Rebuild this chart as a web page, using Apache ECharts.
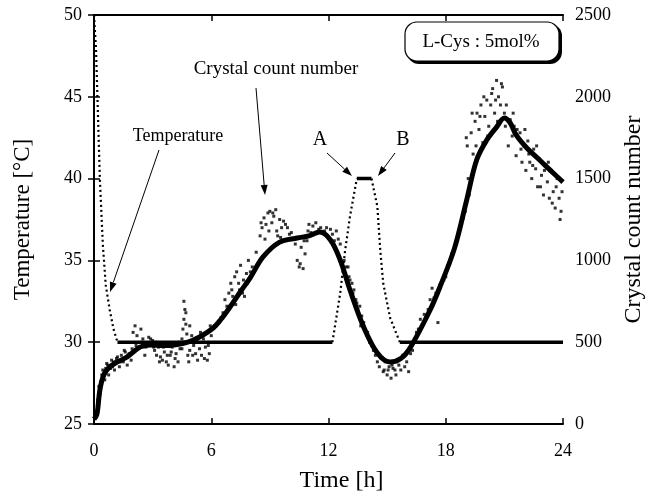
<!DOCTYPE html>
<html><head><meta charset="utf-8">
<script src="https://cdn.jsdelivr.net/npm/echarts@6/dist/echarts.min.js"></script>
<style>html,body{margin:0;padding:0;background:#fff}#c{width:645px;height:497px}</style>
</head><body><div id="c"></div>
<script>
// Temperature profile [h, °C]
const tempTime  = [0, 0.1, 0.2, 0.3, 0.45, 0.6, 0.8, 1.0, 1.2, 12.2, 12.6, 12.85, 13.1, 13.45, 14.2, 14.5, 14.65, 14.8, 15.15, 15.65, 24];
const tempValue = [50, 48, 44, 40, 36, 33.5, 32, 30.8, 30, 30, 33, 35.6, 37.7, 40, 40, 38.3, 35.6, 33.6, 31.5, 30, 30];

// Crystal count (smoothed trend) [h, count]
const crystalTime  = [0, 0.15, 0.3, 0.5, 0.8, 1.2, 1.7, 2.35, 2.9, 3.5, 4.2, 4.8, 5.4, 6.1, 6.5, 6.96, 7.5, 8.0, 8.65, 9.5, 10.4, 11.0, 11.55, 12.1, 12.6, 13.1, 13.8, 14.5, 15.15, 15.7, 16.2, 17.2, 17.7, 18.45, 19.07, 19.58, 20.1, 20.6, 21.0, 21.3, 21.6, 22.15, 22.8, 23.5, 24];
const crystalCount = [30, 60, 208, 300, 348, 380, 410, 470, 483, 480, 485, 500, 532, 587, 640, 715, 810, 895, 1021, 1112, 1137, 1150, 1173, 1125, 1002, 819, 593, 434, 379, 400, 470, 697, 837, 1075, 1369, 1614, 1736, 1815, 1870, 1840, 1767, 1687, 1614, 1534, 1479];

// Raw crystal count measurements (scatter)
const scatterTime = [0.1,0.2,0.25,0.35,0.4,0.5,0.55,0.6,0.7,0.75,0.85,0.9,1.0,1.05,1.2,1.3,1.4,1.5,1.6,1.7,1.8,1.9,2.0,2.1,2.2,2.3,2.4,2.5,2.6,2.7,2.8,3.0,3.1,3.2,3.3,3.4,3.5,3.6,3.7,3.8,3.9,4.0,4.1,4.2,4.3,4.4,4.5,4.55,4.6,4.65,4.7,4.75,4.8,4.85,4.9,5.0,5.1,5.2,5.3,5.4,5.5,5.6,5.7,5.8,5.9,6.0,
6.4,6.6,6.8,6.9,7.0,7.1,7.2,7.3,7.4,7.5,7.6,7.7,7.8,7.9,8.0,8.5,8.6,8.7,8.8,8.9,9.0,9.1,9.2,9.3,9.4,9.5,9.6,9.8,10.0,10.4,10.5,10.6,10.7,10.8,10.9,11.0,11.2,11.5,11.8,12.0,12.2,12.4,12.5,
12.8,13.0,13.1,13.2,13.3,13.4,13.5,13.6,13.7,13.8,14.0,14.2,14.4,14.5,14.6,14.8,14.9,15.0,15.1,15.2,15.3,15.4,15.6,15.8,16.0,16.1,16.3,16.5,16.7,16.9,17.1,17.3,17.5,17.6,17.8,18.0,18.2,18.4,18.6,
19.0,19.1,19.2,19.3,19.4,19.5,19.6,19.7,19.8,19.9,20.0,20.1,20.2,20.3,20.4,20.5,20.6,20.7,20.8,20.9,21.0,21.1,21.3,21.4,21.5,21.6,21.7,21.8,21.9,22.0,22.1,22.2,22.3,22.4,22.5,22.6,22.7,22.8,22.9,23.0,23.1,23.2,23.3,23.4,23.5,23.6,23.7,23.8,23.9,
0.3,0.45,0.65,0.95,1.15,1.35,1.55,1.75,1.95,2.15,2.45,2.65,2.9,3.05,3.15,3.35,3.55,3.75,3.95,4.15,4.35,4.5,4.6,4.7,4.9,5.05,5.25,5.45,5.65,5.85,5.95,
6.2,6.5,6.7,7.05,7.25,7.45,7.65,7.85,8.1,8.3,8.55,8.75,8.95,9.15,9.35,9.55,9.7,9.9,10.1,10.3,10.55,10.75,10.95,11.1,11.35,11.6,11.9,12.1,12.3,
12.6,12.9,13.05,13.25,13.45,13.65,13.9,14.1,14.3,14.7,14.85,15.05,15.25,15.45,15.5,15.7,15.9,16.2,16.4,16.6,16.8,17.0,17.2,17.4,17.7,17.9,18.1,18.3,18.5,18.7,18.8,18.9,
19.05,19.15,19.35,19.55,19.75,19.95,20.15,20.35,20.55,20.65,20.85,21.05,21.2,21.45,21.65,21.85,22.05,22.25,22.45,22.65,22.85,23.05,23.25,23.45,23.65,23.85,23.95];
const scatterCount = [60,150,230,260,300,310,270,340,360,300,340,390,380,330,410,350,420,380,440,360,430,390,560,600,540,470,580,520,420,490,530,510,450,420,470,410,390,440,380,360,420,470,350,430,380,460,520,580,640,700,610,550,420,380,450,540,480,430,390,460,420,520,470,390,430,540,
620,680,720,800,860,780,900,930,860,970,800,780,920,1000,930,1150,1200,1260,1220,1290,1300,1230,1270,1310,1150,1250,1200,1220,1160,1000,960,1080,950,1040,1120,1220,1210,1190,1180,1140,1160,1180,1130,
1000,960,880,860,820,760,700,720,660,620,560,480,420,380,350,320,380,300,350,280,340,330,360,420,380,320,450,560,640,670,700,830,800,620,870,900,980,1060,1150,
1300,1700,1400,1780,1650,1850,1900,1800,1950,1720,1880,1980,1820,1950,2050,1900,2100,2000,1950,2060,1900,1950,1860,1760,1820,1640,1750,1780,1600,1700,1550,1730,1600,1500,1680,1560,1450,1620,1520,1400,1580,1480,1380,1550,1420,1320,1500,1380,1300,
180,330,370,350,400,380,450,420,460,480,500,470,520,470,500,380,470,420,440,400,500,460,750,680,600,420,500,560,400,480,600,
600,650,760,820,730,820,880,860,960,1050,1230,1130,1180,1290,1180,1140,1240,1200,1170,1100,980,1120,1180,1170,1230,1200,1200,1190,1120,
1100,960,900,800,740,600,560,500,450,400,330,330,360,300,380,330,350,430,520,580,600,650,760,770,850,880,960,1040,1100,1170,1220,1260,
1750,1500,1900,1700,1880,2000,1760,2020,1980,1850,2080,1820,1700,1900,1800,1680,1800,1650,1580,1700,1450,1550,1600,1350,1450,1250,1420];

const serif = '"Liberation Serif","DejaVu Serif",serif';

// Build temperature segments: flat plateaus solid, transitions dotted
const tempSeries = [];
let seg = [[tempTime[0], tempValue[0]]];
let segFlat = tempValue[0] === tempValue[1];
for (let i = 1; i < tempTime.length; i++) {
  seg.push([tempTime[i], tempValue[i]]);
  const nextFlat = i < tempTime.length - 1 ? tempValue[i] === tempValue[i + 1] : null;
  if (nextFlat === null || nextFlat !== segFlat) {
    tempSeries.push({
      type: 'line', xAxisIndex: 0, yAxisIndex: 0, data: seg, symbol: 'none', silent: true, z: 3,
      lineStyle: segFlat ? { color: '#000', width: 3.5 } : { color: '#000', width: 2.2, type: [2, 3] }
    });
    seg = [[tempTime[i], tempValue[i]]];
    segFlat = nextFlat;
  }
}

const scatterData = scatterTime.map((t, i) => [t, scatterCount[i]]);
const crystalData = crystalTime.map((t, i) => [t, crystalCount[i]]);

function arrow(x1, y1, x2, y2) {
  const a = Math.atan2(y2 - y1, x2 - x1), L = 10, W = 3.5;
  const bx = x2 - L * Math.cos(a), by = y2 - L * Math.sin(a);
  return [
    { type: 'line', shape: { x1, y1, x2: bx, y2: by }, style: { stroke: '#000', lineWidth: 1 } },
    { type: 'polygon', shape: { points: [[x2, y2], [bx + W * Math.sin(a), by - W * Math.cos(a)], [bx - W * Math.sin(a), by + W * Math.cos(a)]] }, style: { fill: '#000' } }
  ];
}

const labelStyle = { color: '#000', fontFamily: serif, fontSize: 18, formatter: v => String(v) };
const axisCommon = {
  axisLine: { show: true, lineStyle: { color: '#000', width: 2 } },
  axisTick: { show: true, inside: true, length: 6, lineStyle: { color: '#000', width: 1.5 } },
  splitLine: { show: false }
};

const chart = echarts.init(document.getElementById('c'));
chart.setOption({
  animation: false,
  backgroundColor: '#fff',
  grid: { left: 94, right: 82, top: 15, bottom: 73, containLabel: false, outerBoundsMode: 'none' },
  xAxis: [
    Object.assign({}, axisCommon, { type: 'value', min: 0, max: 24, interval: 6, position: 'bottom',
      name: 'Time [h]', nameLocation: 'middle', nameGap: 45,
      nameTextStyle: { color: '#000', fontFamily: serif, fontSize: 24, padding: [0, 0, 0, 26] },
      axisLabel: Object.assign({}, labelStyle, { margin: 18 }) }),
    Object.assign({}, axisCommon, { type: 'value', min: 0, max: 24, interval: 6, position: 'top',
      axisLabel: { show: false } })
  ],
  yAxis: [
    Object.assign({}, axisCommon, { type: 'value', min: 25, max: 50, interval: 5, position: 'left',
      name: 'Temperature [°C]', nameLocation: 'middle', nameGap: 60,
      nameTextStyle: { color: '#000', fontFamily: serif, fontSize: 23 },
      axisLabel: Object.assign({}, labelStyle, { margin: 12 }) }),
    Object.assign({}, axisCommon, { type: 'value', min: 0, max: 2500, interval: 500, position: 'right',
      name: 'Crystal count number', nameLocation: 'middle', nameGap: 57,
      nameTextStyle: { color: '#000', fontFamily: serif, fontSize: 24 },
      axisLabel: Object.assign({}, labelStyle, { margin: 12 }) })
  ],
  series: [
    { type: 'scatter', xAxisIndex: 0, yAxisIndex: 1, data: scatterData, symbol: 'rect', symbolSize: 3,
      itemStyle: { color: '#000' }, silent: true, z: 2 },
    { type: 'line', xAxisIndex: 0, yAxisIndex: 1, data: crystalData, smooth: 0.35, symbol: 'none',
      lineStyle: { color: '#000', width: 5 }, silent: true, z: 4 }
  ].concat(tempSeries),
  graphic: [
    { type: 'text', x: 178, y: 136, style: { text: 'Temperature', font: '18px ' + serif, fill: '#000', textAlign: 'center', textVerticalAlign: 'middle' } },
    { type: 'text', x: 276, y: 69, style: { text: 'Crystal count number', font: '19px ' + serif, fill: '#000', textAlign: 'center', textVerticalAlign: 'middle' } },
    { type: 'text', x: 320, y: 140, style: { text: 'A', font: '20px ' + serif, fill: '#000', textAlign: 'center', textVerticalAlign: 'middle' } },
    { type: 'text', x: 403, y: 140, style: { text: 'B', font: '20px ' + serif, fill: '#000', textAlign: 'center', textVerticalAlign: 'middle' } },
    { type: 'rect', shape: { x: 407, y: 24, width: 155, height: 40, r: 12 }, style: { fill: '#000' } },
    { type: 'rect', shape: { x: 405, y: 22, width: 154, height: 39, r: 12 }, style: { fill: '#fff', stroke: '#000', lineWidth: 1.2 } },
    { type: 'text', x: 481, y: 42, style: { text: 'L-Cys : 5mol%', font: '19px ' + serif, fill: '#000', textAlign: 'center', textVerticalAlign: 'middle' } }
  ].concat(arrow(159, 150, 110, 292), arrow(256, 88, 265, 195), arrow(327, 153, 352, 176), arrow(395, 153, 378, 176))
});
</script></body></html>
